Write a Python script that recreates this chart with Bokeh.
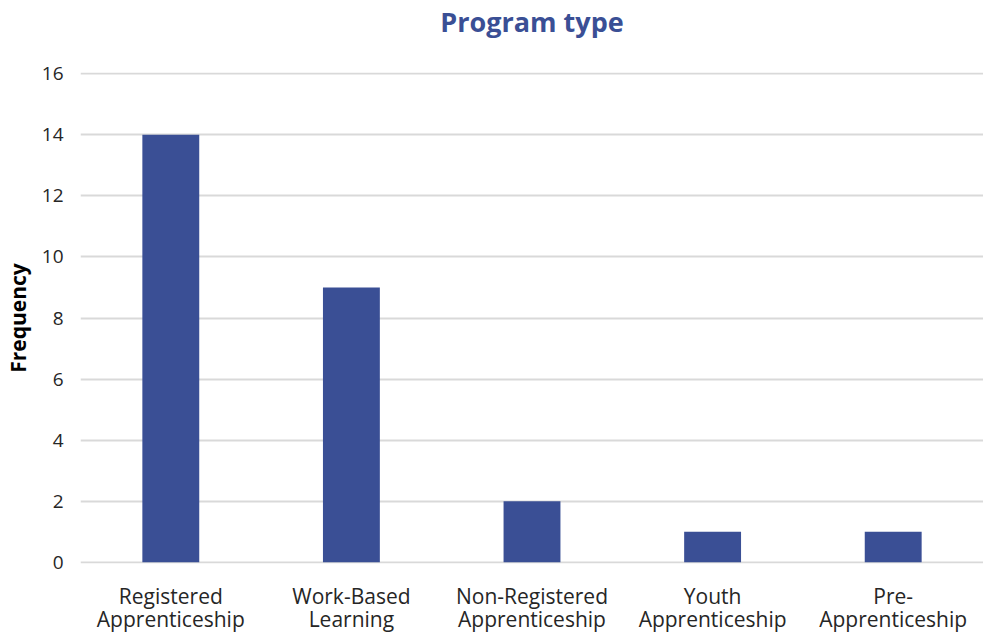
from bokeh.plotting import figure
from bokeh.models import ColumnDataSource, FixedTicker, Range1d, CategoricalAxis, CustomJSTickFormatter, Title
from bokeh.embed import file_html
from bokeh.resources import INLINE

categories = ["Registered Apprenticeship", "Work-Based Learning", "Non-Registered Apprenticeship",
              "Youth Apprenticeship", "Pre-Apprenticeship"]
label_line1 = ["Registered", "Work-Based", "Non-Registered", "Youth", "Pre-"]
label_line2 = ["Apprenticeship", "Learning", "Apprenticeship", "Apprenticeship", "Apprenticeship"]
values = [14, 9, 2, 1, 1]
y_ticks = [0, 2, 4, 6, 8, 10, 12, 14, 16]

FONT = "Open Sans"
BLUE = "#3A4F95"
TXT = "#262626"

src = ColumnDataSource(dict(cat=categories, val=values))

p = figure(x_range=categories, y_range=Range1d(-0.04, 16.04), width=983, height=635,
           output_backend="svg", toolbar_location=None, title=None,
           min_border_left=80, min_border_right=0, min_border_top=72, min_border_bottom=0)

p.vbar(x="cat", top="val", width=0.315, source=src, fill_color=BLUE, line_color=None)

main_title = Title(text="Program type", align="center", text_font=FONT, text_font_size="27px",
                   text_font_style="bold", text_color=BLUE, offset=0, standoff=0)
spacer = Title(text=" ", text_font_size="1px", standoff=30)
p.above = [spacer, main_title]

p.outline_line_color = None
p.background_fill_color = "white"
p.border_fill_color = "white"

p.xgrid.grid_line_color = None
p.ygrid.grid_line_color = "#D9D9D9"
p.ygrid.grid_line_width = 2
p.yaxis.ticker = FixedTicker(ticks=y_ticks)

p.yaxis.axis_line_color = None
p.yaxis.major_tick_line_color = None
p.yaxis.major_tick_out = 0
p.yaxis.minor_tick_out = 0
p.yaxis.minor_tick_line_color = None
p.yaxis.major_label_text_font = FONT
p.yaxis.major_label_text_font_size = "19px"
p.yaxis.major_label_text_color = TXT
p.yaxis.major_label_standoff = 17
p.yaxis.axis_label = "Frequency"
p.yaxis.axis_label_text_font = FONT
p.yaxis.axis_label_text_font_size = "21px"
p.yaxis.axis_label_text_font_style = "bold"
p.yaxis.axis_label_text_color = "black"
p.yaxis.axis_label_standoff = 7


def style_x(ax, lines, standoff):
    ax.axis_line_color = None
    ax.major_tick_line_color = None
    ax.minor_tick_line_color = None
    ax.major_tick_out = 0
    ax.minor_tick_out = 0
    ax.major_label_text_font = FONT
    ax.major_label_text_font_size = "21px"
    ax.major_label_text_color = TXT
    ax.major_label_standoff = standoff
    ax.formatter = CustomJSTickFormatter(args=dict(names=categories, lines=lines),
                                         code="const i = names.indexOf(tick); return i >= 0 ? lines[i] : tick;")


style_x(p.xaxis[0], label_line1, 18)
ax2 = CategoricalAxis()
style_x(ax2, label_line2, -8)
p.add_layout(ax2, "below")

open("out.html", "w").write(file_html(p, INLINE))
